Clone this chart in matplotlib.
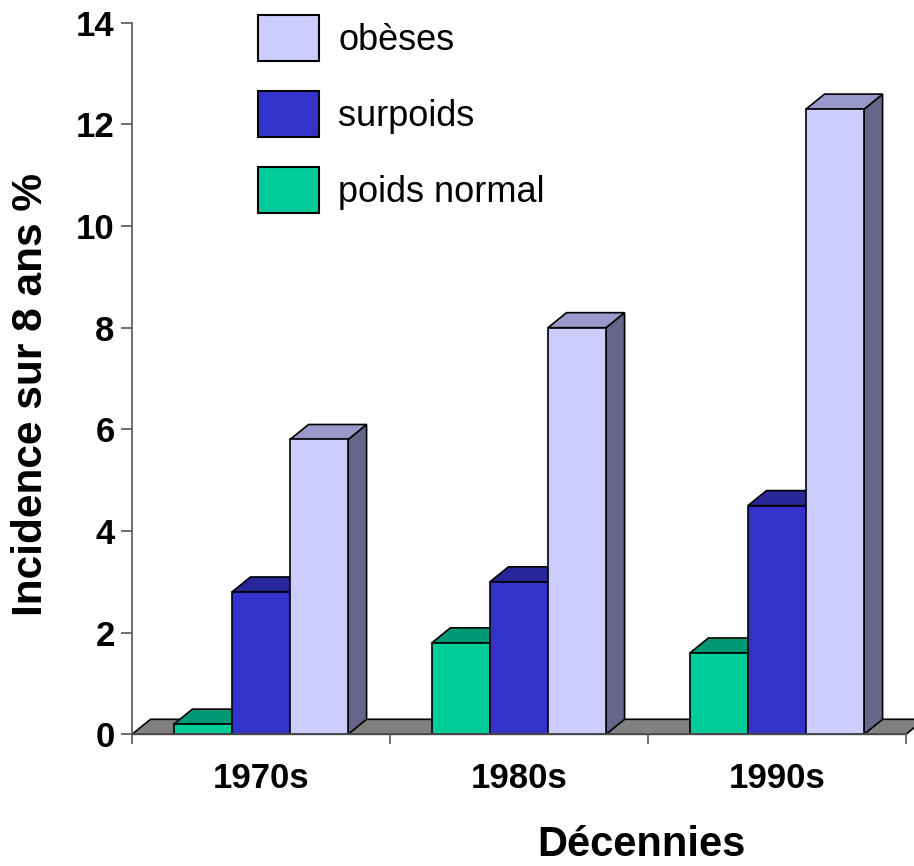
import matplotlib
matplotlib.use("Agg")
import matplotlib.pyplot as plt
from matplotlib.patches import Polygon, Patch
import numpy as np

plt.rcParams['font.family'] = ['Liberation Sans', 'DejaVu Sans']

# Data
decades = ["1970s", "1980s", "1990s"]
series_names = ["poids normal", "surpoids", "obèses"]
poids_normal = [0.2, 1.8, 1.6]
surpoids = [2.8, 3.0, 4.5]
obeses = [5.8, 8.0, 12.3]
y_ticks = [0, 2, 4, 6, 8, 10, 12, 14]

# Face colours per series: (front, top, side)
shades = {
    "poids normal": ("#00CC99", "#009975", "#007A5C"),
    "surpoids": ("#3333CC", "#262699", "#1F1F7A"),
    "obèses": ("#CCCCFF", "#9999CC", "#66668A"),
}
values = {"poids normal": poids_normal, "surpoids": surpoids, "obèses": obeses}

W, H = 914, 866
fig = plt.figure(figsize=(W / 100, H / 100), dpi=100)
ax = fig.add_axes([132 / W, (H - 734.3) / H, (906 - 132) / W, (734.3 - 22.7) / H])
ax.set_xlim(-0.5, len(decades) - 0.5)
ax.set_ylim(0, 14)

# depth of the pseudo-3D extrusion, in pixels -> data units
inv = ax.transData.inverted()
p0 = ax.transData.transform((0, 0))
dx, dy = inv.transform(p0 + np.array([18.5, 15.0]))

edge = dict(edgecolor="black", linewidth=1.2, joinstyle="miter")

# floor
x0, x1 = -0.5, len(decades) - 0.5
floor = Polygon([(x0, 0), (x1, 0), (x1 + dx, dy), (x0 + dx, dy)],
                closed=True, facecolor="#808080", zorder=1, clip_on=False, **edge)
ax.add_patch(floor)

bar_w = 0.225
n = len(series_names)
for i, dec in enumerate(decades):
    for j, name in enumerate(series_names):
        h = values[name][i]
        xl = i + (j - n / 2) * bar_w
        xr = xl + bar_w
        front_c, top_c, side_c = shades[name]
        side = Polygon([(xr, 0), (xr + dx, dy), (xr + dx, h + dy), (xr, h)],
                       closed=True, facecolor=side_c, zorder=2, clip_on=False, **edge)
        top = Polygon([(xl, h), (xr, h), (xr + dx, h + dy), (xl + dx, h + dy)],
                      closed=True, facecolor=top_c, zorder=2, clip_on=False, **edge)
        front = Polygon([(xl, 0), (xr, 0), (xr, h), (xl, h)],
                        closed=True, facecolor=front_c, zorder=2, clip_on=False, **edge)
        for p in (side, top, front):
            ax.add_patch(p)

# axes styling
for s in ("top", "right"):
    ax.spines[s].set_visible(False)
for s in ("left", "bottom"):
    ax.spines[s].set_color("#555555")
    ax.spines[s].set_linewidth(1.2)
    ax.spines[s].set_zorder(3)

ax.set_yticks(y_ticks)
ax.set_yticklabels([str(t) for t in y_ticks], fontsize=25, fontweight="bold")
ax.tick_params(axis="y", direction="out", length=8, width=1.2, color="#555555", pad=4.5)

ax.set_xticks(np.arange(len(decades) + 1) - 0.5)
ax.set_xticklabels([])
ax.tick_params(axis="x", which="major", direction="out", length=7.5, width=1.2, color="#555555")
ax.set_xticks(np.arange(len(decades)), minor=True)
ax.set_xticklabels(decades, minor=True, fontsize=25, fontweight="bold")
ax.tick_params(axis="x", which="minor", length=0, pad=20)

# legend (obèses on top)
leg_fs = 26
em = leg_fs * 100 / 72
handles = [Patch(facecolor=shades[nm][0], edgecolor="black", linewidth=1.5)
           for nm in reversed(series_names)]
fig.legend(handles, list(reversed(series_names)), loc="upper left",
           bbox_to_anchor=(258 / W, 1 - 15 / H), bbox_transform=fig.transFigure,
           frameon=False, fontsize=leg_fs, handlelength=61 / em, handleheight=1.583,
           labelspacing=30 / em, handletextpad=19 / em, borderpad=0, borderaxespad=0)

fig.text(31 / W, 1 - 395 / H, "Incidence sur 8 ans %", rotation=90,
         ha="center", va="center", fontsize=30.5, fontweight="bold")
fig.text(641 / W, 9.5 / H, "Décennies", ha="center", va="baseline",
         fontsize=30, fontweight="bold")

fig.savefig("out.png", dpi=100)
